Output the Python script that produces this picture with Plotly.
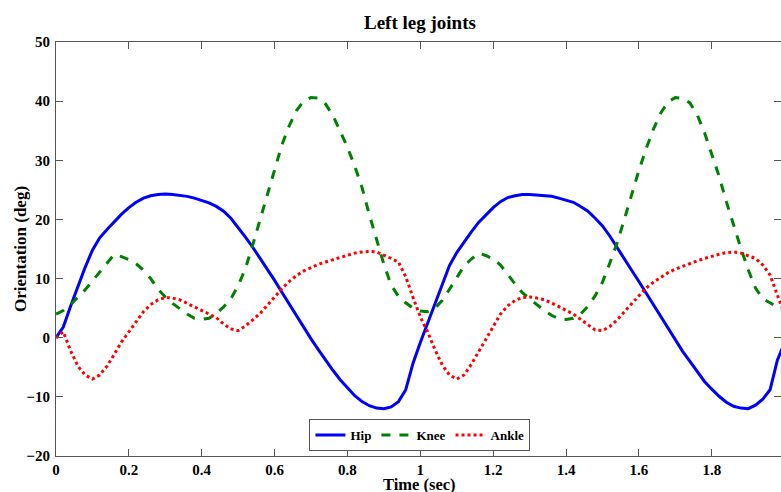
import plotly.graph_objects as go

time_sec = [round(i * 0.02, 2) for i in range(101)]

hip = [0.0, 1.8, 5.3, 8.6, 11.9, 14.8, 16.9, 18.3, 19.6, 20.9,
       22.0, 22.9, 23.6, 24.0, 24.2, 24.3, 24.2, 24.1, 23.9, 23.6,
       23.2, 22.8, 22.2, 21.4, 20.2, 18.7, 17.0, 15.3, 13.5, 11.6,
       9.7, 7.7, 5.7, 3.7, 1.8, -0.2, -2.0, -3.8, -5.5, -7.1,
       -8.5, -9.8, -10.8, -11.5, -11.9, -12.0, -11.7, -10.8, -8.8, -4.3,
       -0.8, 2.5, 5.8, 9.2, 12.2, 14.4, 16.2, 17.9, 19.5, 20.8,
       22.0, 23.0, 23.7, 24.0, 24.2, 24.2, 24.1, 24.0, 23.9, 23.6,
       23.2, 22.9, 22.2, 21.4, 20.2, 18.9, 17.2, 15.2, 13.3, 11.4,
       9.5, 7.5, 5.5, 3.5, 1.6, -0.4, -2.3, -4.0, -5.8, -7.4,
       -8.7, -9.9, -10.9, -11.6, -11.9, -12.0, -11.4, -10.4, -8.8, -3.8,
       -0.8]

knee = [4.0, 4.6, 5.6, 6.9, 8.1, 9.6, 11.1, 12.6, 14.1, 13.7,
        13.2, 12.5, 11.4, 10.0, 8.2, 6.9, 5.8, 4.9, 4.0, 3.3,
        3.1, 3.3, 4.1, 5.2, 6.6, 8.8, 11.7, 15.7, 19.9, 24.3,
        28.6, 32.6, 35.8, 38.4, 40.0, 40.6, 40.5, 39.5, 37.6, 35.0,
        32.2, 29.0, 25.4, 20.8, 16.4, 12.4, 8.9, 7.0, 5.9, 5.0,
        4.5, 4.4, 5.0, 6.3, 8.2, 10.2, 12.1, 13.3, 14.3, 13.9,
        13.3, 12.3, 10.8, 9.1, 7.6, 6.6, 5.7, 4.6, 3.8, 3.2,
        3.1, 3.3, 4.0, 5.3, 7.1, 9.4, 12.6, 16.0, 20.0, 24.2,
        28.3, 32.0, 35.3, 38.0, 39.9, 40.6, 40.5, 39.7, 37.7, 34.7,
        31.0, 27.3, 23.0, 19.0, 15.1, 11.5, 8.4, 6.6, 5.9, 5.2,
        4.5]

ankle = [0.0, 1.0, -2.2, -4.8, -6.3, -7.0, -6.3, -4.8, -2.8, -0.7,
         1.0, 2.6, 4.4, 5.6, 6.4, 6.8, 6.7, 6.4, 5.8, 5.3,
         4.7, 4.1, 3.4, 2.3, 1.5, 1.2, 2.0, 3.0, 4.1, 5.5,
         6.9, 8.3, 9.5, 10.5, 11.3, 11.9, 12.4, 12.8, 13.2, 13.6,
         14.0, 14.3, 14.5, 14.6, 14.5, 14.0, 13.4, 12.8, 10.3, 6.8,
         3.5, 1.0, -2.0, -4.6, -6.3, -7.0, -6.3, -4.5, -2.4, -0.3,
         2.0, 4.0, 5.4, 6.3, 6.8, 6.9, 6.7, 6.4, 5.9, 5.3,
         4.7, 4.0, 3.1, 2.2, 1.3, 1.2, 1.9, 3.0, 4.4, 5.8,
         7.1, 8.4, 9.4, 10.2, 11.0, 11.6, 12.1, 12.6, 13.0, 13.4,
         13.8, 14.1, 14.4, 14.5, 14.3, 13.9, 13.4, 12.3, 10.6, 7.2,
         4.0]

series_names = ["Hip", "Knee", "Ankle"]
x_ticks = [0, 0.2, 0.4, 0.6, 0.8, 1, 1.2, 1.4, 1.6, 1.8]
y_ticks = [-20, -10, 0, 10, 20, 30, 40, 50]

FONT = "'Liberation Serif', 'Times New Roman', 'DejaVu Serif', serif"

fig = go.Figure()
fig.add_trace(go.Scatter(x=time_sec, y=hip, mode="lines", name="<b>" + series_names[0] + "</b>",
                         line=dict(color="#0000ff", width=3, dash="solid")))
fig.add_trace(go.Scatter(x=time_sec, y=knee, mode="lines", name="<b>" + series_names[1] + "</b>",
                         line=dict(color="#008000", width=3, dash="dash")))
fig.add_trace(go.Scatter(x=time_sec, y=ankle, mode="lines", name="<b>" + series_names[2] + "</b>",
                         line=dict(color="#ff0000", width=3, dash="dot")))

axis_common = dict(
    showline=True, linecolor="#555555", linewidth=1.2, mirror="ticks",
    ticks="inside", ticklen=7, tickcolor="#555555", tickwidth=1,
    showgrid=False, zeroline=False, automargin=False,
    tickfont=dict(family=FONT, size=15, color="black", weight="bold"),
)

fig.update_layout(
    width=781, height=492,
    margin=dict(l=56, r=0, t=42, b=36, autoexpand=False),
    paper_bgcolor="white", plot_bgcolor="white",
    font=dict(family=FONT),
    xaxis=dict(range=[0, 1.99], tickvals=x_ticks, **axis_common),
    yaxis=dict(range=[-20, 50], tickvals=y_ticks, ticklabelstandoff=2, **axis_common),
    legend=dict(orientation="h", x=0.502, xanchor="center", y=0.012, yanchor="bottom",
                bordercolor="#555555", borderwidth=1, bgcolor="white",
                font=dict(family=FONT, size=13, color="black"),
                itemwidth=30, tracegroupgap=0),
    showlegend=True,
    annotations=[
        dict(text="<b>Left leg joints</b>", xref="paper", yref="paper", x=0.502, y=(492 - 22 - 36) / 414,
             xanchor="center", yanchor="middle", showarrow=False,
             font=dict(family=FONT, size=19, color="black")),
        dict(text="<b>Time (sec)</b>", xref="paper", yref="paper", x=0.502, y=-(484.5 - 456) / 414,
             xanchor="center", yanchor="middle", showarrow=False,
             font=dict(family=FONT, size=16.5, color="black")),
        dict(text="<b>Orientation (deg)</b>", xref="paper", yref="paper", x=-(56 - 20) / 725, y=0.5,
             xanchor="center", yanchor="middle", showarrow=False, textangle=-90,
             font=dict(family=FONT, size=17, color="black")),
    ],
)

fig.write_html("out.html", config={"displayModeBar": False},
               post_script="document.body.style.margin='0';document.body.style.padding='0';")
